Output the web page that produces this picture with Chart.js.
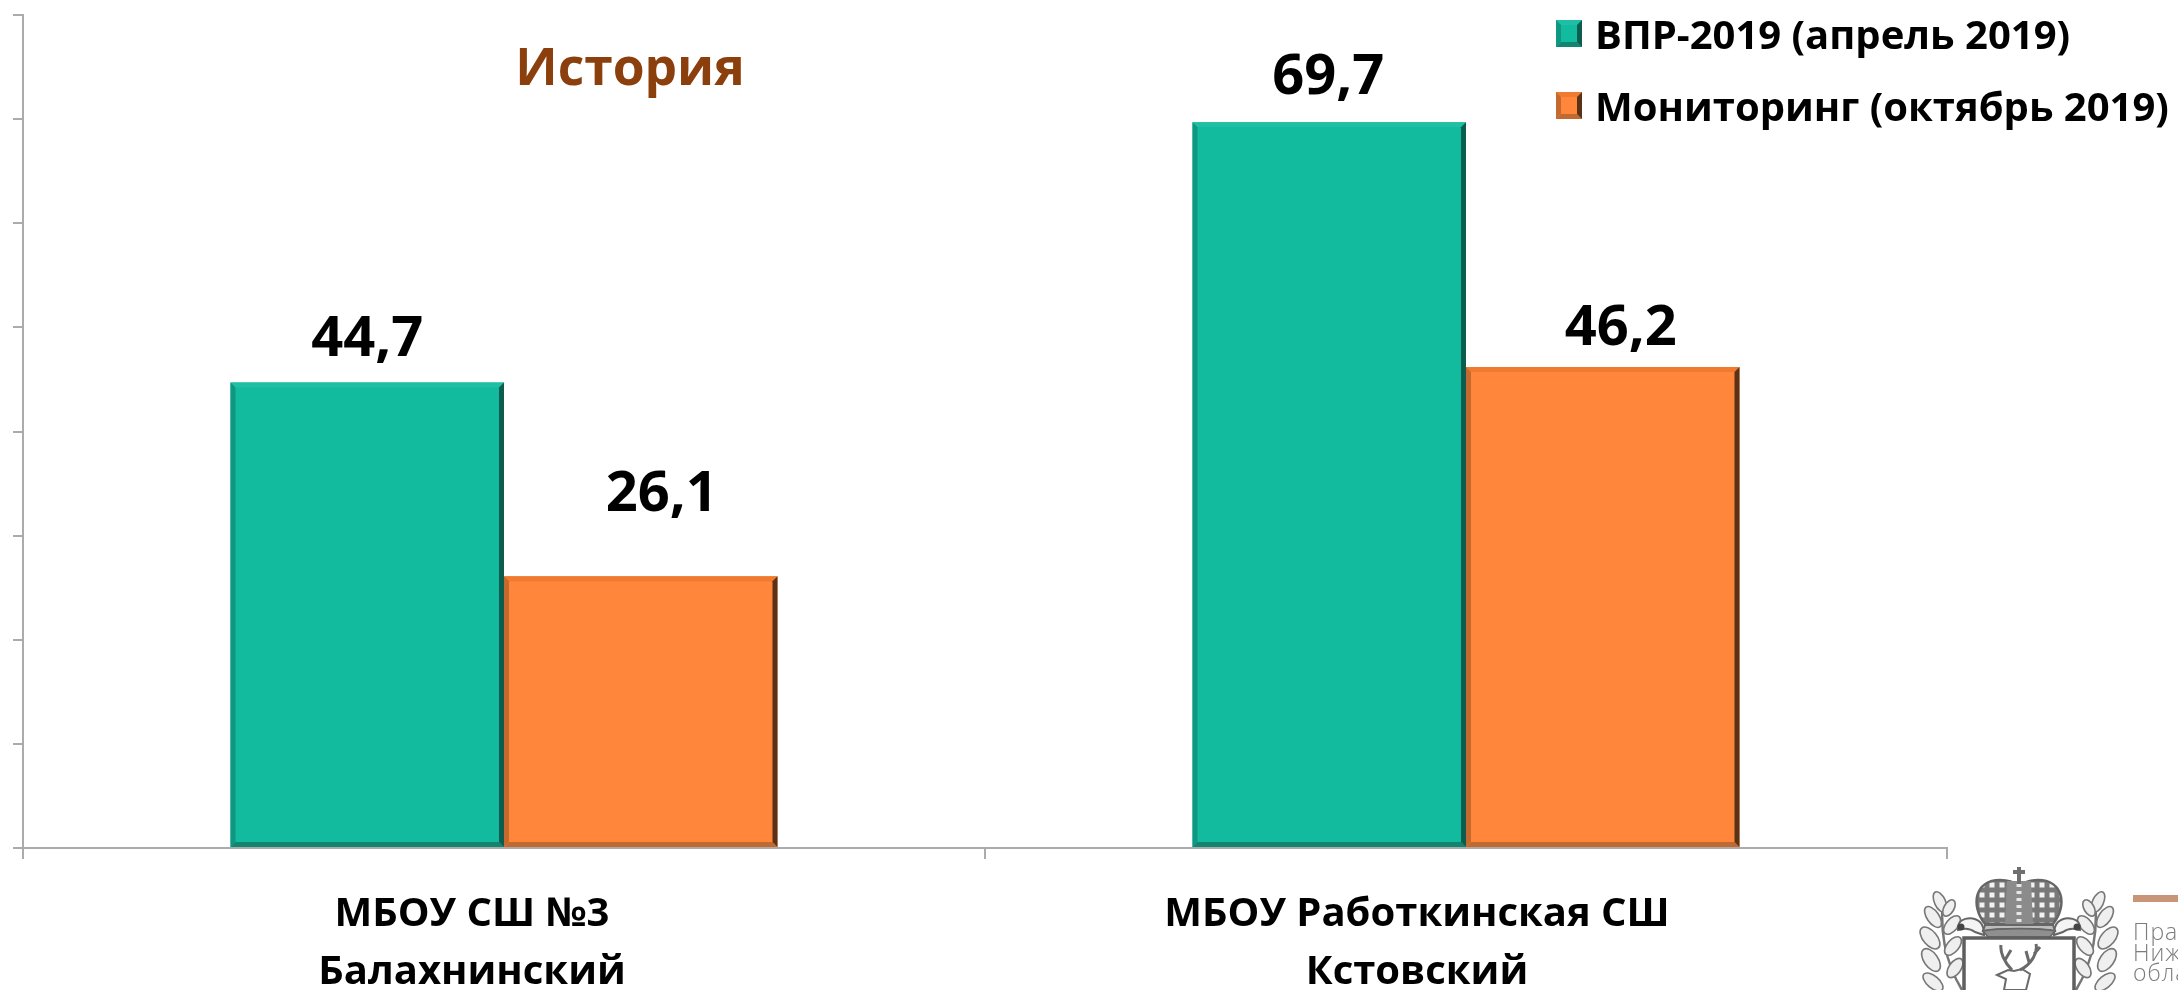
<!DOCTYPE html>
<html lang="ru">
<head>
<meta charset="utf-8">
<title>История</title>
<style>
html,body{margin:0;padding:0;width:2178px;height:990px;overflow:hidden;background:#fff}
#wrap{position:relative;width:2178px;height:990px}
canvas{position:absolute;left:0;top:0}
#arms{position:absolute;left:0;top:0}
#gov{position:absolute;left:2133px;top:921px;font:300 23px/20.5px "Open Sans",sans-serif;letter-spacing:1px;color:#7d7d7d;white-space:nowrap}
</style>
<script src="https://cdn.jsdelivr.net/npm/chart.js@4/dist/chart.umd.min.js"></script>
</head>
<body>
<div id="wrap">
<canvas id="c" width="2178" height="990"></canvas>
<svg id="arms" width="2178" height="990" fill="none" stroke="#777">
  <defs>
    <pattern id="cells" x="1977" y="880" width="10" height="10" patternUnits="userSpaceOnUse">
      <rect width="10" height="10" fill="#7a7a7a"/>
      <rect x="2" y="2" width="6" height="6" fill="#f2f2f2"/>
    </pattern>
    <g id="branch" stroke="#777" stroke-width="1.6" fill="#efefef">
      <path d="M1962 990 C1944 960 1940 930 1943 897" fill="none" stroke-width="2.5"/>
      <ellipse cx="1933" cy="982" rx="12" ry="6" transform="rotate(40 1933 982)"/>
      <ellipse cx="1931" cy="960" rx="13" ry="7" transform="rotate(55 1931 960)"/>
      <ellipse cx="1930" cy="938" rx="13" ry="7" transform="rotate(50 1930 938)"/>
      <ellipse cx="1933" cy="917" rx="12" ry="6" transform="rotate(55 1933 917)"/>
      <ellipse cx="1940" cy="902" rx="11" ry="5.5" transform="rotate(65 1940 902)"/>
      <ellipse cx="1955" cy="968" rx="11" ry="6" transform="rotate(-55 1955 968)"/>
      <ellipse cx="1953" cy="946" rx="11" ry="6" transform="rotate(-50 1953 946)"/>
      <ellipse cx="1952" cy="925" rx="11" ry="6" transform="rotate(-50 1952 925)"/>
      <ellipse cx="1949" cy="908" rx="9" ry="5" transform="rotate(-60 1949 908)"/>
    </g>
    <g id="scroll" stroke="#666" fill="#f4f4f4">
      <path d="M1958 930 C1956 918 1972 915 1980 922 C1984 926 1984 932 1984 935 L1975 932 C1970 928 1964 928 1958 930 Z" stroke-width="2"/>
      <circle cx="1961" cy="927" r="3.5" fill="#444" stroke="none"/>
    </g>
  </defs>
  <rect x="2133" y="895" width="45" height="7" fill="#c99576" stroke="none"/>
  <!-- oak branches -->
  <use href="#branch"/>
  <use href="#branch" transform="translate(4038 0) scale(-1 1)"/>
  <use href="#scroll"/>
  <use href="#scroll" transform="translate(4038 0) scale(-1 1)"/>
  <!-- crown -->
  <path d="M1985 924 C1970 905 1975 880 2000 880 C2008 880 2014 882 2019 886 C2024 882 2030 880 2038 880 C2063 880 2068 905 2053 924 Z" fill="url(#cells)" stroke="#666" stroke-width="2.5"/>
  <path d="M2007 881 H2031 L2033 924 H2005 Z" fill="#8b8b8b" stroke="none"/>
  <path d="M2019 884 V922" stroke="#e6e6e6" stroke-width="5" stroke-dasharray="3 4"/>
  <path d="M2019 867 V884 M2013 872 H2025" stroke-width="4" stroke="#6f6f6f"/>
  <path d="M1985 925 H2053 L2055 931 C2040 928 1998 928 1983 931 Z" fill="#bdbdbd" stroke="#666" stroke-width="2"/>
  <path d="M1983 931 C1998 928 2040 928 2055 931 L2050 937 H1988 Z" fill="#8f8f8f" stroke="#666" stroke-width="1.5"/>
  <!-- shield -->
  <path d="M1964 990 V938 H2074 V990" stroke-width="3.5" stroke="#5f5f5f" fill="#fff"/>
  <!-- deer -->
  <path d="M1997 975 L2008 970 L2014 971 L2022 969 L2030 974 L2026 990 H2004 L2006 979 Z" fill="#fff" stroke="#6a6a6a" stroke-width="2"/>
  <path d="M2012 970 C2004 962 2000 952 2001 945 M2005 960 L2011 950 M2020 970 C2032 964 2038 952 2036 944 M2029 962 L2026 951 M2034 954 L2040 947" stroke-width="3" stroke="#6a6a6a"/>
</svg>
<div id="gov">Правительство<br>Нижегородской<br>области</div>
</div>
<script>
const categories = [["МБОУ СШ №3", "Балахнинский"], ["МБОУ Работкинская СШ", "Кстовский"]];
const seriesNames = ["ВПР-2019 (апрель 2019)", "Мониторинг (октябрь 2019)"];
const vpr2019 = [44.7, 69.7];
const monitoring2019 = [26.1, 46.2];
const chartTitle = "История";
const yTicks = [0, 10, 20, 30, 40, 50, 60, 70, 80];

const FONT = '"Open Sans", sans-serif';
const AXIS = '#ababab';
const fills = ['#12BA9E', '#FF863A'];
const bevels = [
  {top:'#1fbfa5', left:'#0f9782', right:'#0c5c50', bottom:'#128570'},
  {top:'#f07a30', left:'#c46a2e', right:'#5a3316', bottom:'#c06a32'}
];
/* hand-placed label shifts of the original slide, in px [dx, dy above bar] */
const valueShift = [[[0, 43], [21, 81]], [[-1, 44], [18, 38]]];
const catShift = [-32, -49];

const quad = (ctx, col, pts) => {
  ctx.fillStyle = col; ctx.beginPath();
  pts.forEach((p, i) => i ? ctx.lineTo(p[0], p[1]) : ctx.moveTo(p[0], p[1]));
  ctx.closePath(); ctx.fill();
};
const bevelBox = (ctx, c, l, t, r, bt, b) => {
  quad(ctx, c.top, [[l,t],[r,t],[r-b,t+b],[l+b,t+b]]);
  quad(ctx, c.bottom, [[l,bt],[r,bt],[r-b,bt-b],[l+b,bt-b]]);
  quad(ctx, c.left, [[l,t],[l+b,t+b],[l+b,bt-b],[l,bt]]);
  quad(ctx, c.right, [[r,t],[r-b,t+b],[r-b,bt-b],[r,bt]]);
};

const bevelPlugin = {
  id: 'bevel',
  afterDatasetsDraw(chart) {
    const ctx = chart.ctx;
    chart.data.datasets.forEach((ds, di) => {
      chart.getDatasetMeta(di).data.forEach(el => {
        ctx.save();
        bevelBox(ctx, bevels[di], el.x - el.width / 2, el.y, el.x + el.width / 2, el.base, 5);
        ctx.restore();
      });
    });
  }
};

const textPlugin = {
  id: 'texts',
  beforeDraw(chart) {
    const items = chart.scales.x.getLabelItems();
    items.forEach((it, i) => {
      if (!it._moved) { it.options.translation[0] += catShift[i]; it._moved = true; }
    });
  },
  afterDraw(chart) {
    const ctx = chart.ctx;
    ctx.save();
    ctx.textAlign = 'center'; ctx.textBaseline = 'middle';
    ctx.fillStyle = '#000';
    ctx.font = '700 56px ' + FONT;
    chart.data.datasets.forEach((ds, di) => {
      chart.getDatasetMeta(di).data.forEach((el, i) => {
        const s = valueShift[i][di];
        ctx.fillText(String(ds.data[i]).replace('.', ','), el.x + s[0], el.y - s[1]);
      });
    });
    ctx.fillStyle = '#8B3F0C';
    ctx.font = '700 51.5px ' + FONT;
    ctx.fillText(chartTitle, 630, 70);
    ctx.textAlign = 'left';
    ctx.font = '700 40px ' + FONT;
    const swatchY = [20, 92], textY = [38, 110];
    seriesNames.forEach((name, i) => {
      const x = 1556, y = swatchY[i], w = 26, h = 27;
      ctx.fillStyle = fills[i]; ctx.fillRect(x, y, w, h);
      bevelBox(ctx, bevels[i], x, y, x + w, y + h, 5);
      ctx.fillStyle = '#000';
      ctx.fillText(name, 1595, textY[i]);
    });
    ctx.restore();
  }
};

new Chart(document.getElementById('c'), {
  type: 'bar',
  data: {
    labels: categories,
    datasets: [
      {label: seriesNames[0], data: vpr2019, backgroundColor: fills[0], borderWidth: 0, categoryPercentage: 0.5686, barPercentage: 1},
      {label: seriesNames[1], data: monitoring2019, backgroundColor: fills[1], borderWidth: 0, categoryPercentage: 0.5686, barPercentage: 1}
    ]
  },
  options: {
    responsive: false,
    animation: false,
    layout: {padding: {top: 15, right: 231, left: 0, bottom: 0}},
    plugins: {legend: {display: false}, title: {display: false}, tooltip: {enabled: false}},
    scales: {
      x: {
        afterFit(s) { s.height = 142; },
        border: {color: AXIS, width: 2},
        grid: {offset: true, drawOnChartArea: false, drawTicks: true, tickLength: 11, color: AXIS, lineWidth: 2},
        ticks: {color: '#000', maxRotation: 0, minRotation: 0, padding: 27, font: {family: FONT, weight: '700', size: 40, lineHeight: 1.45}}
      },
      y: {
        min: yTicks[0], max: yTicks[yTicks.length - 1],
        afterFit(s) { s.width = 23; },
        afterBuildTicks(s) { s.ticks = yTicks.map(v => ({value: v})); },
        border: {color: AXIS, width: 2},
        grid: {drawOnChartArea: false, drawTicks: true, tickLength: 10, color: AXIS, lineWidth: 2},
        ticks: {display: false}
      }
    }
  },
  plugins: [bevelPlugin, textPlugin]
});
</script>
</body>
</html>
